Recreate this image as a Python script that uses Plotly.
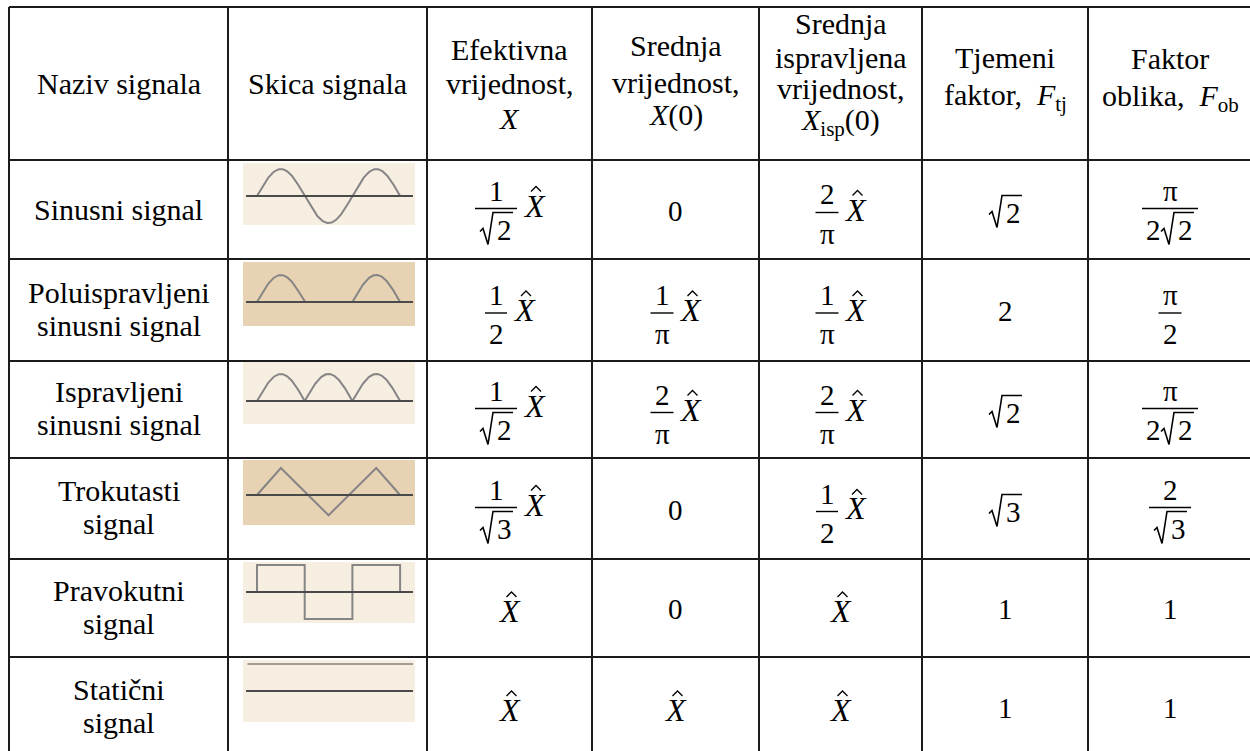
import numpy as np
import plotly.graph_objects as go

# ---------------- table content ----------------
header_lines = [
    ["Naziv signala"],
    ["Skica signala"],
    ["Efektivna", "vrijednost,", "<i>X</i>"],
    ["Srednja", "vrijednost,", "<i>X</i>(0)"],
    ["Srednja", "ispravljena", "vrijednost,", "<i>X</i><sub>isp</sub>(0)"],
    ["Tjemeni", "faktor,\u00a0 <i>F</i><sub>tj</sub>"],
    ["Faktor", "oblika,\u00a0 <i>F</i><sub>ob</sub>"],
]
signal_names = [
    ["Sinusni signal"],
    ["Poluispravljeni", "sinusni signal"],
    ["Ispravljeni", "sinusni signal"],
    ["Trokutasti", "signal"],
    ["Pravokutni", "signal"],
    ["Statični", "signal"],
]
sketch_kind = ["sine", "half", "full", "triangle", "square", "static"]
sketch_shade = ["light", "dark", "light", "dark", "light", "light"]

effective_value = ["1/√2 X̂", "1/2 X̂", "1/√2 X̂", "1/√3 X̂", "X̂", "X̂"]
mean_value = ["0", "1/π X̂", "2/π X̂", "0", "0", "X̂"]
rectified_mean_value = ["2/π X̂", "1/π X̂", "2/π X̂", "1/2 X̂", "X̂", "X̂"]
crest_factor = ["√2", "2", "√2", "√3", "1", "1"]
form_factor = ["π/2√2", "π/2", "π/2√2", "2/√3", "1", "1"]

# sketch waveforms (phase in half periods, level in amplitudes)
triangle_phase = [0, 0.5, 1.5, 2.5, 3]
triangle_level = [0, 1, -0.75, 1, 0]
square_phase = [0, 0, 1, 1, 2, 2, 3, 3]
square_level = [0, 1, 1, -1, -1, 1, 1, 0]
static_level = 1

# ---------------- page geometry (pixels) ----------------
W, H = 1250, 751
SERIF = "Liberation Serif"
FS = 30        # plain text
FD = 29        # digits inside formulas
FX = 32        # italic X in formulas
col_edges = [9, 228, 427, 592, 759, 922, 1088, 1252]
row_edges = [7, 160, 259, 361, 458, 559, 657, 757]
col_c = [(a + b) / 2 for a, b in zip(col_edges[:-1], col_edges[1:])]
row_c = [(a + b) / 2 for a, b in zip(row_edges[1:-1], row_edges[2:])]
header_y = [[83], [83], [50, 83, 118], [45, 82, 115], [23, 57, 88, 122], [57, 97], [58, 98]]

sketch_box_x = (243, 415)
sketch_box_y = [(163, 225), (262, 326), (362, 424), (460, 525), (562, 623), (660, 722)]
sketch_axis_y = [196, 302, 401, 495, 592, 691]
sketch_x0 = 257      # pixel of phase 0
px_per_phase = 47.7
px_per_amp = 27
shade_color = {"light": "#f6eee1", "dark": "#e7d3b4"}

annotations = []
shapes = []


def px(x):
    return x / W


def py(y):
    return 1 - y / H


def put_text(x, y, s, size=FS):
    annotations.append(dict(x=px(x), y=py(y), xref="paper", yref="paper", text=s,
                            showarrow=False, xanchor="center", yanchor="middle",
                            font=dict(family=SERIF, size=size, color="black")))


def path(points, width=1.6, color="black"):
    d = "M " + " L ".join(f"{px(x)},{py(y)}" for x, y in points)
    shapes.append(dict(type="path", path=d, xref="paper", yref="paper",
                       line=dict(color=color, width=width)))


def radical(dx, dy):
    # square root sign around a digit centred at (dx, dy)
    path([(dx - 24, dy + 2), (dx - 21, dy - 1), (dx - 16, dy + 15),
          (dx - 11, dy - 17), (dx + 9, dy - 17)])


def item_width(tok):
    return 34 if tok.startswith("√") else (15 if tok == "π" else 14)


def tokens(s):
    out, i = [], 0
    while i < len(s):
        if s[i] == "√":
            out.append(s[i:i + 2]); i += 2
        else:
            out.append(s[i]); i += 1
    return out


def row_width(s):
    return sum(item_width(t) for t in tokens(s))


def draw_row(s, cx, cy):
    x = cx - row_width(s) / 2
    for t in tokens(s):
        w = item_width(t)
        if t.startswith("√"):
            put_text(x + 25, cy, t[1], size=FD)
            radical(x + 25, cy)
        else:
            put_text(x + w / 2, cy, t, size=FD)
        x += w


def draw_xhat(xc, yc):
    put_text(xc, yc, "<i>X</i>", size=FX)
    hx, hy = xc + 2, yc - 17
    path([(hx - 5, hy + 3), (hx, hy - 2), (hx + 5, hy + 3)], width=1.3)


def draw_formula(expr, cx, rc):
    parts = expr.split()
    hat = parts[-1] == "X̂"
    core = None if parts[0] == "X̂" else parts[0]
    xw, gap = 20, 7
    if core is None:
        draw_xhat(cx, rc + 3)
        return
    if "/" in core:
        num, den = core.split("/")
        fw = max(row_width(num), row_width(den)) + 8
        total = fw + (gap + xw if hat else 0)
        x0 = cx - total / 2
        bar = rc + (-1 if "√" in den else 3)
        fc = x0 + fw / 2
        shapes.append(dict(type="line", xref="paper", yref="paper",
                           x0=px(x0), x1=px(x0 + fw), y0=py(bar), y1=py(bar),
                           line=dict(color="black", width=1.4)))
        draw_row(num, fc, bar - 18)
        draw_row(den, fc, bar + 21)
        if hat:
            draw_xhat(x0 + fw + gap + xw / 2, bar - 3)
    else:
        draw_row(core, cx, rc + (3 if "√" in core else 1))


# ---------------- figure ----------------
fig = go.Figure()

# signal sketches, one small axis pair per row
for k, kind in enumerate(sketch_kind):
    n = k + 2
    (bx0, bx1), (by0, by1) = sketch_box_x, sketch_box_y[k]
    ax_y = sketch_axis_y[k]
    fig.update_layout(**{
        f"xaxis{n}": dict(domain=[px(bx0), px(bx1)], visible=False, fixedrange=True,
                          range=[(bx0 - sketch_x0) / px_per_phase, (bx1 - sketch_x0) / px_per_phase],
                          anchor=f"y{n}"),
        f"yaxis{n}": dict(domain=[py(by1), py(by0)], visible=False, fixedrange=True,
                          range=[-(by1 - ax_y) / px_per_amp, (ax_y - by0) / px_per_amp],
                          anchor=f"x{n}"),
    })
    shapes.append(dict(type="rect", xref=f"x{n} domain", yref=f"y{n} domain",
                       x0=0, x1=1, y0=0, y1=1, fillcolor=shade_color[sketch_shade[k]],
                       line=dict(width=0), layer="below"))

    if kind in ("sine", "half", "full"):
        ph = np.linspace(0, 3, 241)
        lv = np.sin(np.pi * ph)
        if kind == "half":
            lv = np.clip(lv, 0, None)
        elif kind == "full":
            lv = np.abs(lv)
    elif kind == "triangle":
        ph, lv = triangle_phase, triangle_level
    elif kind == "square":
        ph, lv = square_phase, square_level
    else:
        ph, lv = [-0.2, 3.27], [static_level, static_level]

    wave_color = "#a29c94" if kind == "static" else "#858585"
    fig.add_trace(go.Scatter(x=ph, y=lv, mode="lines", xaxis=f"x{n}", yaxis=f"y{n}",
                             line=dict(color=wave_color, width=2), hoverinfo="skip",
                             showlegend=False))
    # zero line
    fig.add_trace(go.Scatter(x=[-0.23, 3.27], y=[0, 0], mode="lines", xaxis=f"x{n}", yaxis=f"y{n}",
                             line=dict(color="#4a4a4a", width=2.2), hoverinfo="skip",
                             showlegend=False))

# grid lines
for x in col_edges[:-1]:
    shapes.append(dict(type="line", xref="paper", yref="paper", x0=px(x), x1=px(x),
                       y0=py(row_edges[0]), y1=0, line=dict(color="#1c1c1c", width=2)))
for y in row_edges[:-1]:
    shapes.append(dict(type="line", xref="paper", yref="paper", x0=px(col_edges[0]), x1=1,
                       y0=py(y), y1=py(y), line=dict(color="#1c1c1c", width=2)))

# header
for c, lines in enumerate(header_lines):
    for line, y in zip(lines, header_y[c]):
        put_text(col_c[c], y, line)

# first column: signal names
for r, lines in enumerate(signal_names):
    ys = [row_c[r]] if len(lines) == 1 else [row_c[r] - 18, row_c[r] + 15]
    for line, y in zip(lines, ys):
        put_text(col_c[0], y, line)

# formula columns
for c, values in zip([2, 3, 4, 5, 6],
                     [effective_value, mean_value, rectified_mean_value, crest_factor, form_factor]):
    for r, v in enumerate(values):
        draw_formula(v, col_c[c], row_c[r])

fig.update_layout(
    width=W, height=H,
    margin=dict(l=0, r=0, t=0, b=0),
    paper_bgcolor="white", plot_bgcolor="rgba(0,0,0,0)",
    xaxis=dict(visible=False), yaxis=dict(visible=False),
    showlegend=False,
    annotations=annotations,
    shapes=shapes,
)

# the page has a default 8px body margin; remove it so the table sits at the top-left corner
fig.write_html("out.html", config={"displayModeBar": False},
               post_script="document.body.style.margin='0';")
